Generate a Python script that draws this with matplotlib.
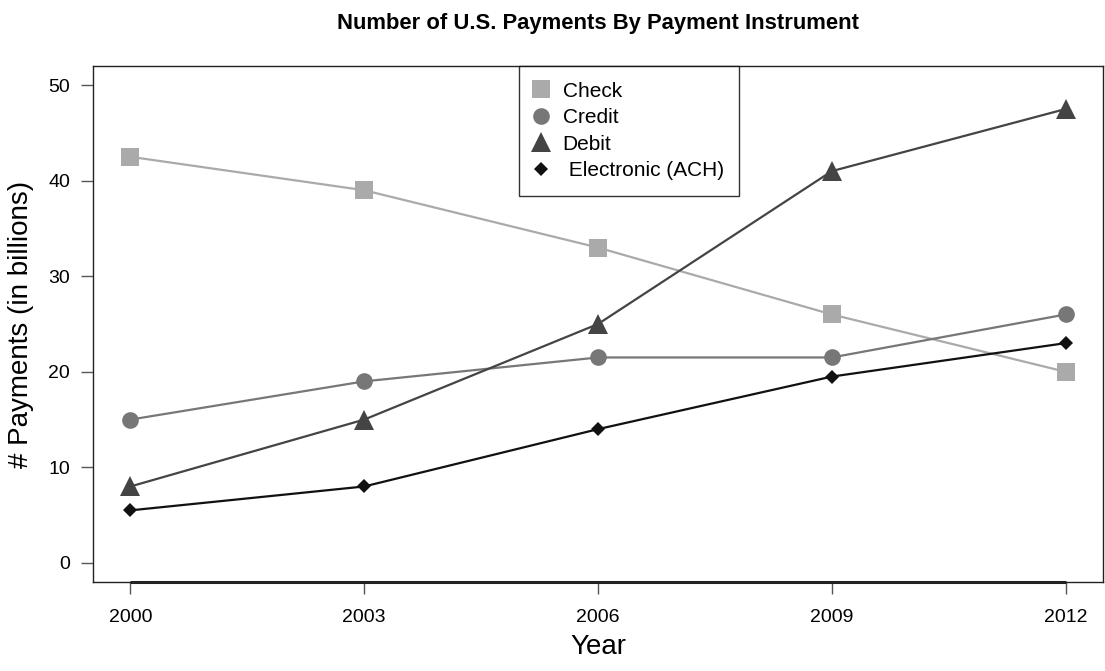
import matplotlib
matplotlib.use('Agg')
import matplotlib.pyplot as plt

plt.rcParams['font.family'] = ['Liberation Sans', 'DejaVu Sans']

years = [2000, 2003, 2006, 2009, 2012]
check = [42.5, 39, 33, 26, 20]
credit = [15, 19, 21.5, 21.5, 26]
debit = [8, 15, 25, 41, 47.5]
ach = [5.5, 8, 14, 19.5, 23]

series = [
    ('Check', check, '#aaaaaa', 's', 12.5),
    ('Credit', credit, '#777777', 'o', 12),
    ('Debit', debit, '#444444', '^', 15),
    (' Electronic (ACH)', ach, '#111111', 'D', 7.5),
]

fig = plt.figure(figsize=(11.05, 6.71), dpi=100)
ax = fig.add_axes([0.0842, 0.1326, 0.9140, 0.7690])

for name, vals, color, marker, ms in series:
    ax.plot(years, vals, color=color, marker=marker, markersize=ms, linewidth=1.6,
            label=name, markeredgewidth=0)

ax.set_xlim(1999.52, 2012.48)
ax.set_ylim(-2, 52)
ax.set_xticks(years)
ax.set_yticks([0, 10, 20, 30, 40, 50])
ax.tick_params(axis='both', labelsize=14, length=8.5, width=1.0, color='#555555')
ax.tick_params(axis='x', pad=11)
ax.tick_params(axis='y', pad=8)
for s in ax.spines.values():
    s.set_linewidth(1.0)
    s.set_color('#222222')

# R-style axis line along the bottom between the first and last tick
ax.plot([years[0], years[-1]], [0, 0], color='#222222', linewidth=2.2,
        transform=ax.get_xaxis_transform(), clip_on=False, solid_capstyle='butt')

ax.set_xlabel('Year', fontsize=20, labelpad=6)
ax.set_ylabel('# Payments (in billions)', fontsize=20, labelpad=10)
ax.set_title('Number of U.S. Payments By Payment Instrument', fontsize=15.8,
             fontweight='bold', pad=27)

leg = ax.legend(loc='upper left', bbox_to_anchor=(0.4216, 1.0), borderaxespad=0,
                fontsize=15, frameon=True, fancybox=False, edgecolor='black',
                handlelength=0.6, handletextpad=0.75, labelspacing=0.36,
                borderpad=0.75)
leg.get_frame().set_linewidth(1.0)
for h in leg.get_lines():
    h.set_linestyle('None')

fig.savefig('out.png', dpi=100)
